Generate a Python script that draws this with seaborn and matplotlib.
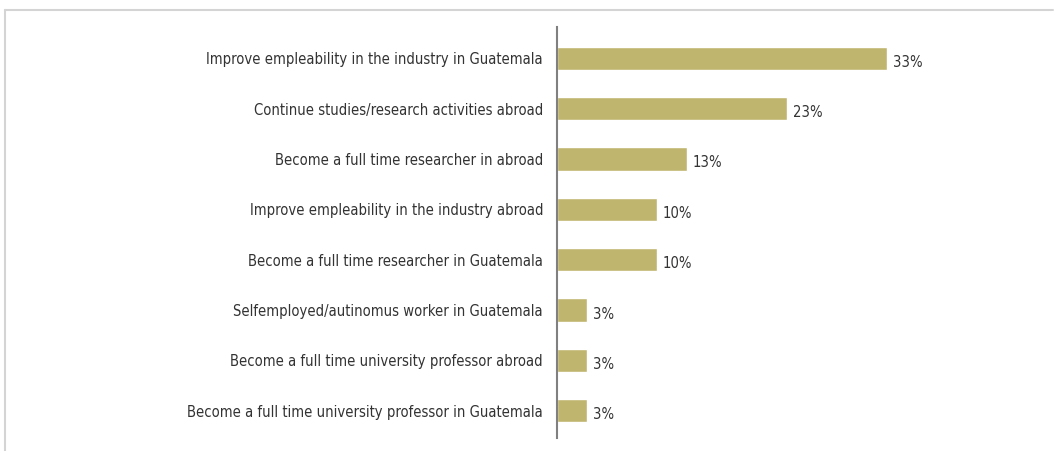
import seaborn as sns
import matplotlib.pyplot as plt
import matplotlib.lines as mlines
import pandas as pd

# dados do grafico
categorias = [
    "Improve empleability in the industry in Guatemala",
    "Continue studies/research activities abroad",
    "Become a full time researcher in abroad",
    "Improve empleability in the industry abroad",
    "Become a full time researcher in Guatemala",
    "Selfemployed/autinomus worker in Guatemala",
    "Become a full time university professor abroad",
    "Become a full time university professor in Guatemala",
]
percentuais = [33, 23, 13, 10, 10, 3, 3, 3]
rotulos = ["33%", "23%", "13%", "10%", "10%", "3%", "3%", "3%"]

tabela = pd.DataFrame({"categoria": categorias, "valor": percentuais})

sns.set_style("white")
plt.rcParams["font.family"] = ["DejaVu Sans"]
plt.rcParams["font.stretch"] = "condensed"

W, H = 1054, 451
fig = plt.figure(figsize=(W / 100, H / 100), dpi=100)
# eixo: x=0 em 557px, 10px por ponto percentual
ax = fig.add_axes([557 / W, 1 - 438 / H, 450 / W, (438 - 27) / H])

sns.barplot(data=tabela, x="valor", y="categoria", color="#BFB56E",
            saturation=1, width=0.46, ax=ax)

ax.set_xlim(0, 45)
ax.set_ylim(7.54, -0.62)
ax.set_xlabel("")
ax.set_ylabel("")
ax.set_xticks([])
ax.tick_params(axis="y", length=0, pad=10, labelsize=10.6, labelcolor="#333333")
for lado in ["top", "right", "bottom"]:
    ax.spines[lado].set_visible(False)
ax.spines["left"].set_color("#808080")
ax.spines["left"].set_linewidth(1.5)

for i, (v, r) in enumerate(zip(percentuais, rotulos)):
    ax.text(v + 0.6, i + 0.08, r, va="center", ha="left", fontsize=10.6, color="#333333")

# moldura cinza (linha de cima e da esquerda)
fig.add_artist(mlines.Line2D([5 / W, 1053 / W], [1 - 10 / H, 1 - 10 / H],
                             color="#D4D4D4", lw=1.5, transform=fig.transFigure))
fig.add_artist(mlines.Line2D([5 / W, 5 / W], [0, 1 - 10 / H],
                             color="#D4D4D4", lw=1.5, transform=fig.transFigure))

fig.savefig("out.png", dpi=100)
